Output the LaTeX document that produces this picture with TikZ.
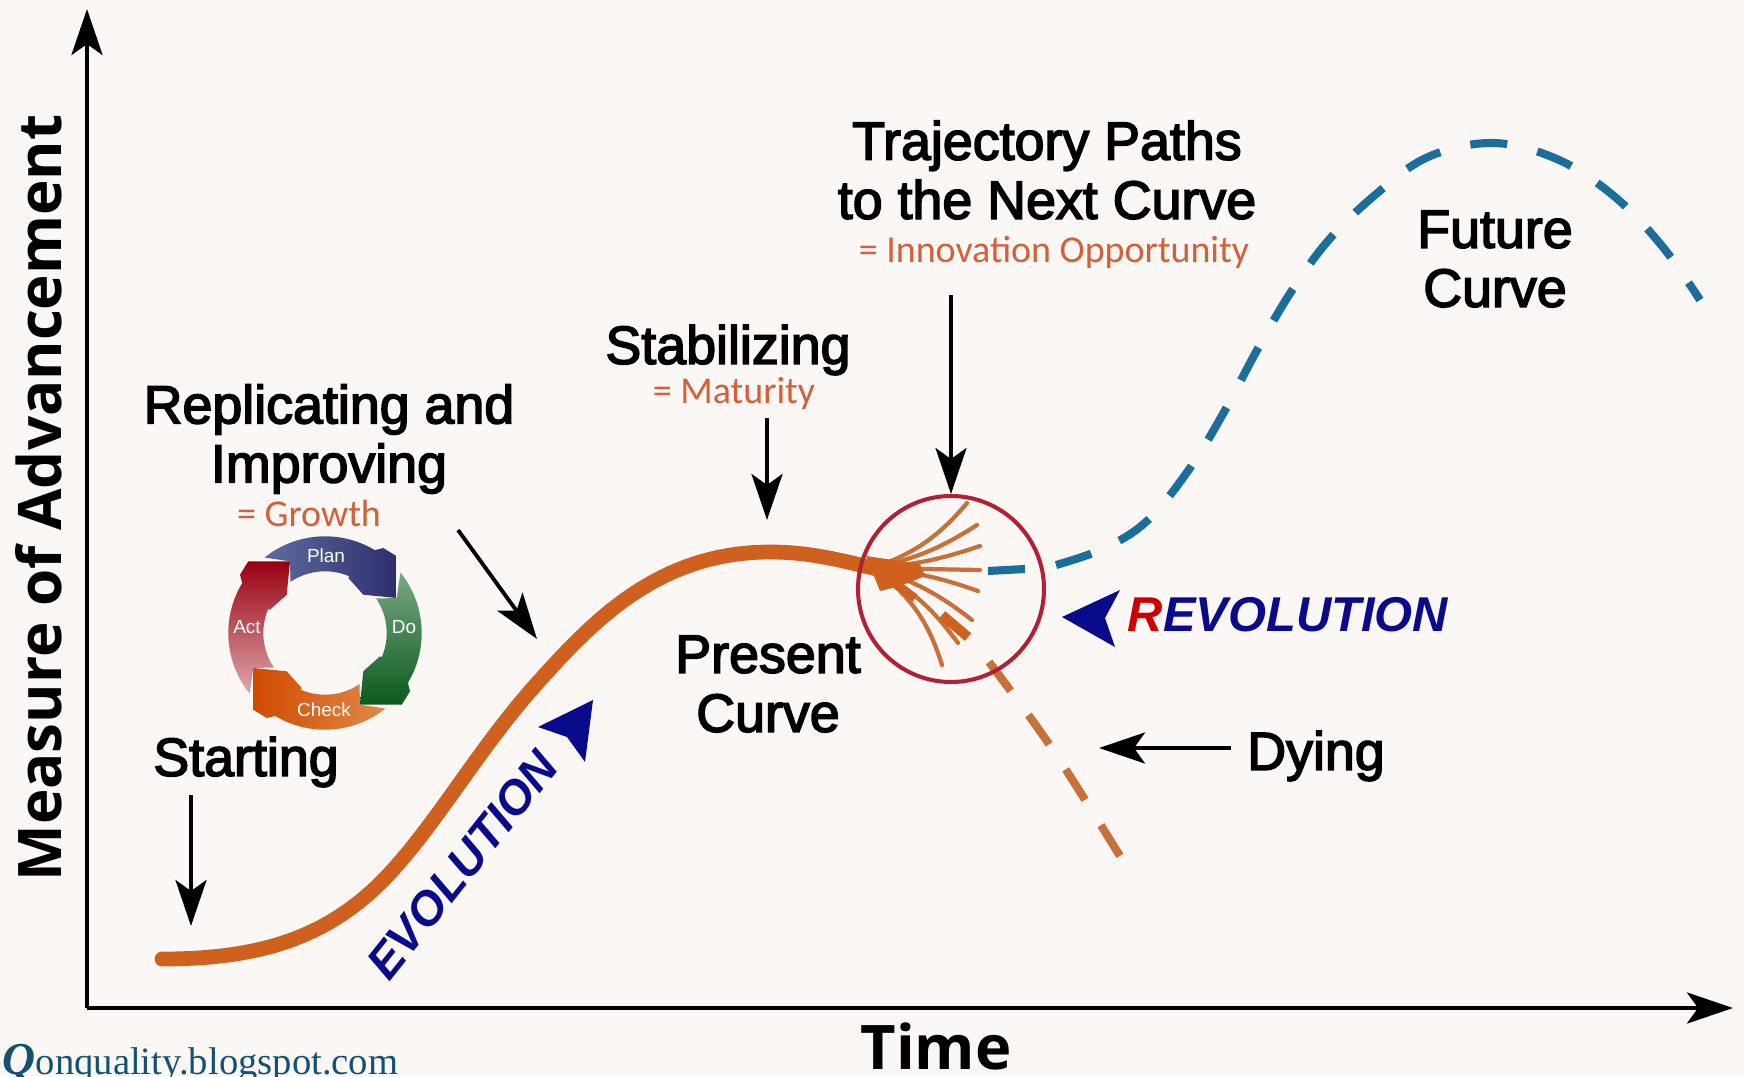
\documentclass[tikz,border=0pt]{standalone}
\usepackage{fontspec}
\setmainfont{Liberation Sans}
\newfontfamily\subfont{Carlito}
\newfontfamily\axisfont{Open Sans}
\newfontfamily\blogfont{Liberation Serif}
\usetikzlibrary{arrows.meta, positioning}
\definecolor{paper}{HTML}{FBF7F4}
\definecolor{curveorange}{HTML}{D0601E}
\definecolor{fanorange}{HTML}{C8703A}
\definecolor{subred}{HTML}{D2603A}
\definecolor{futureblue}{HTML}{1B6D9B}
\definecolor{revnavy}{HTML}{0A0A8C}
\definecolor{ringred}{HTML}{B22035}
\definecolor{planlight}{HTML}{5D6D9E}
\definecolor{plandark}{HTML}{2E2E6E}
\definecolor{dolight}{HTML}{7AA882}
\definecolor{dodark}{HTML}{0B5A1E}
\definecolor{checklight}{HTML}{E08A4A}
\definecolor{checkdark}{HTML}{D04A00}
\definecolor{actlight}{HTML}{DCA8A8}
\definecolor{actdark}{HTML}{990012}

\begin{document}
\begin{tikzpicture}[>={Stealth[length=.46cm,width=.31cm,inset=.11cm]}]
    \tikzstyle{axis line}=[->,black,line width=1.2pt]
    \tikzstyle{pointer}=[->,black,line width=1.1pt]
    \tikzstyle{head}=[font=\fontsize{15.3}{16.8}\selectfont,align=center,inner sep=0pt,
        execute at begin node={\special{pdf:code 2 Tr 0.45 w}},execute at end node={\special{pdf:code 0 Tr}}]
    \tikzstyle{sub}=[font=\subfont\fontsize{10.8}{12}\selectfont,text=subred,inner sep=0pt]
    \tikzstyle{present curve}=[curveorange,line width=4.2pt,line cap=round]
    \tikzstyle{fan line}=[fanorange,line width=1.2pt,line cap=round]
    \tikzstyle{future curve}=[futureblue,line width=2.3pt,dash pattern=on .37cm off .31cm]
    \tikzstyle{dying curve}=[fanorange,line width=2.3pt,dash pattern=on .36cm off .3cm]
    \tikzstyle{big word}=[font=\bfseries\itshape\fontsize{13.9}{15}\selectfont,text=revnavy,inner sep=0pt]
    \tikzstyle{ring word}=[font=\fontsize{5.4}{6}\selectfont,text=white!85,inner sep=0pt]
    \tikzstyle{plan seg}=[left color=planlight,right color=plandark]
    \tikzstyle{do seg}=[top color=dolight,bottom color=dodark]
    \tikzstyle{check seg}=[right color=checklight,left color=checkdark]
    \tikzstyle{act seg}=[bottom color=actlight,top color=actdark]

    \fill[paper] (0,0) rectangle (17.44,10.76);
    \useasboundingbox (0,0) rectangle (17.44,10.76);

    % Draw the axes
    \coordinate (origin) at (.87,.68);
    \coordinate (top) at (.87,10.67);
    \coordinate (right) at (17.33,.68);
    \draw[axis line] (origin) -- (top);
    \draw[axis line] (origin) -- (right);
    \node[font=\axisfont\bfseries\fontsize{17.1}{19}\selectfont,rotate=90,inner sep=0pt] (yname) at (.39,5.78) {Measure of Advancement};
    \node[font=\axisfont\bfseries\fontsize{17.5}{19}\selectfont,inner sep=0pt] (xname) at (9.36,.3) {Time};
    \node[anchor=base west,inner sep=0pt,text=futureblue!75!black] (blog) at (.02,.02)
        {{\blogfont\bfseries\itshape\fontsize{13}{14}\selectfont Q}{\blogfont\fontsize{11}{12}\selectfont onquality.blogspot.com}};

    % Draw the present curve
    \draw[present curve] (1.62,1.17) .. controls (2.6,1.17) and (3.3,1.38) .. (3.9,2.03)
        .. controls (4.4,2.57) and (4.8,3.3) .. (5.4,3.96)
        .. controls (5.95,4.57) and (6.6,5.24) .. (7.7,5.24)
        .. controls (8.1,5.24) and (8.4,5.16) .. (8.85,5.05);

    % Draw the future and the dying curve
    \draw[future curve,dash pattern=] (9.88,5.05) -- (10.25,5.07);
    \draw[future curve] plot[smooth,tension=.6] coordinates {(10.56,5.11) (11.05,5.28) (11.48,5.56) (11.90,6.08) (12.24,6.64) (12.56,7.24) (12.89,7.81) (13.27,8.34) (13.75,8.81) (14.28,9.19) (14.94,9.33) (15.59,9.16) (16.15,8.79) (16.62,8.30) (17.00,7.76)};
    \draw[dying curve] plot[smooth,tension=.6] coordinates {(9.89,4.14) (10.51,3.29) (11.20,2.20)};

    % Draw the branches in the circle
    \coordinate (fan) at (8.73,5.08);
    \foreach \x / \y / \b in {9.67/5.73/15,9.77/5.51/10,9.80/5.30/7,9.80/5.06/0,9.78/4.85/-7,9.72/4.56/-10,9.58/4.33/-12,9.42/4.11/-18}
        \draw[fan line] (fan) to[bend right=\b] (\x,\y);
    \fill[curveorange] (8.66,5.2) -- (9.2,5.12) -- (9.25,5.0) -- (9.0,4.9) -- (8.8,4.85) -- cycle;
    \draw[curveorange,line width=2.8pt] (9.42,4.61) -- (9.68,4.39);
    \draw[curveorange,line width=2.4pt] (8.85,5.0) -- (9.15,4.78);
    \node[circle,draw=ringred,line width=1.15pt,minimum size=1.86cm,inner sep=0pt] (pivot) at (9.51,4.87) {};

    % Draw the ring of the four steps
    \foreach \rot / \seg in {0/plan seg,-90/do seg,-180/check seg,-270/act seg}
        \path[shift={(3.25,4.43)},rotate=\rot,\seg] (128.7:.967) arc (128.7:59:.967) -- (.583,.85) -- (.717,.767) -- (.717,.35) -- (.383,.383) -- (.233,.55) -- (67:.617) arc (67:124:.617) -- (-.35,.717) -- cycle;
    \node[ring word] (plan) at (3.26,5.2) {Plan};
    \node[ring word] (do) at (4.04,4.49) {Do};
    \node[ring word] (check) at (3.24,3.66) {Check};
    \node[ring word] (act) at (2.47,4.49) {Act};

    % Draw the labels
    \node[head] (starting) at (2.46,3.14) {Starting};
    \node[head] (growing) at (3.29,6.37) {Replicating and\\Improving};
    \node[sub] (growth) at (3.09,5.63) {= Growth};
    \node[head] (stable) at (7.28,7.26) {Stabilizing};
    \node[sub] (maturity) at (7.34,6.82) {= Maturity};
    \node[head] (present) at (7.68,3.92) {Present\\Curve};
    \node[head] (trajectory) at (10.47,9.06) {Trajectory Paths\\to the Next Curve};
    \node[sub] (innovation) at (10.54,8.24) {= Innovation Opportunity};
    \node[head] (future) at (14.95,8.17) {Future\\Curve};
    \node[head] (dying) at (13.16,3.20) {Dying};

    % Draw the arrows to the labels
    \coordinate (a1) at (1.91,2.81);
    \coordinate (b1) at (1.91,1.50);
    \coordinate (a2) at (4.58,5.46);
    \coordinate (b2) at (5.37,4.37);
    \coordinate (a3) at (7.67,6.58);
    \coordinate (b3) at (7.67,5.56);
    \coordinate (a4) at (9.51,7.81);
    \coordinate (a5) at (12.31,3.28);
    \coordinate (b5) at (10.99,3.28);
    \draw[pointer] (a1) -- (b1);
    \draw[pointer] (a2) -- (b2);
    \draw[pointer] (a3) -- (b3);
    \draw[pointer] (a4) -- (pivot.north);
    \draw[pointer] (a5) -- (b5);

    % Draw the evolution and the revolution marks
    \node[big word,font=\bfseries\itshape\fontsize{13.4}{15}\selectfont,rotate=51.5] (evolution) at (4.62,2.11) {EVOLUTION};
    \fill[revnavy] (5.93,3.76) -- (5.38,3.49) -- (5.67,3.39) -- (5.85,3.14) -- cycle;
    \node[big word] (revolution) at (12.88,4.61) {\textcolor{red!80!black}{R}EVOLUTION};
    \fill[revnavy] (10.62,4.59) -- (11.20,4.86) -- (11.05,4.58) -- (11.15,4.29) -- cycle;
\end{tikzpicture}
\end{document}
